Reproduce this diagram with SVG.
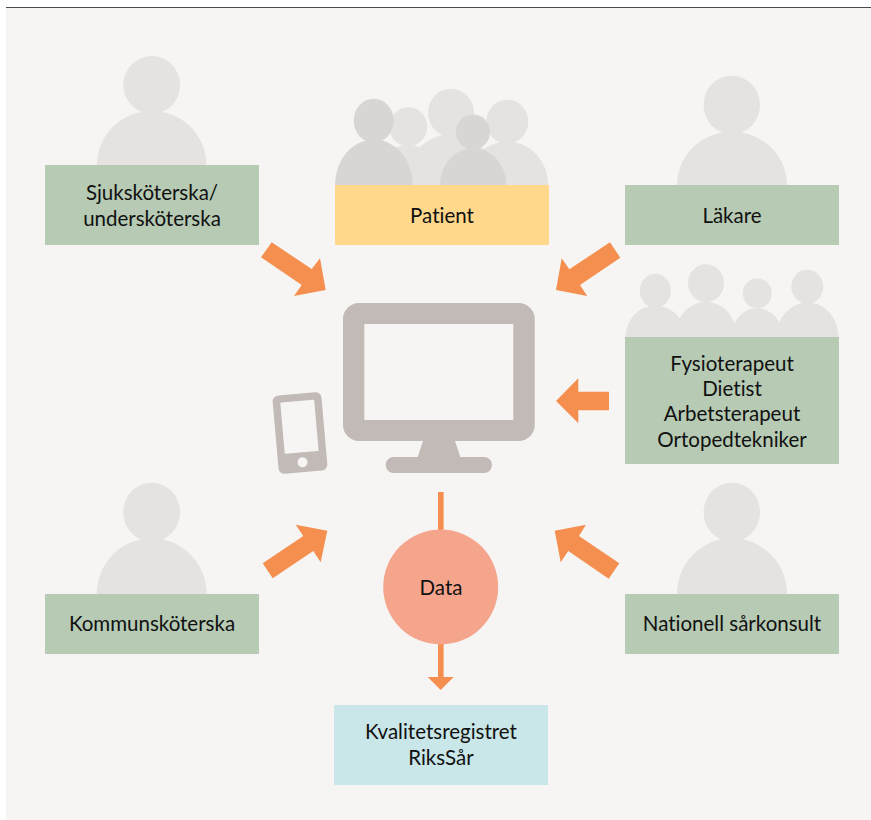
<svg xmlns="http://www.w3.org/2000/svg" width="871" height="820" viewBox="0 0 871 820">
<style>
.lab{font-family:"Lato","Liberation Sans",sans-serif;font-size:20.5px;fill:#111;text-anchor:middle;font-variant-ligatures:none}
.green{fill:#b6cab4}
.p{fill:#e5e2e1}
.f{fill:#d9d5d3}
.arr{fill:#f58f4f}
.dev{fill:#c2bab6}
.bg{fill:#f6f5f3}
</style>
<rect x="0" y="0" width="871" height="820" fill="#fff"/>
<rect class="bg" x="6" y="8" width="865" height="812"/>
<rect x="6" y="7" width="865" height="1" fill="#4a4a4a"/>
<g id="connectors">
<polygon class="arr" points="271.7,242.3 311.7,269 320,258.3 325.7,290 294,296 301.7,285 261,257.3"/>
<polygon class="arr" points="610,242.3 569.3,269.3 561.7,258.3 556,290 587.3,296 580,285 620.3,257.7"/>
<polygon class="arr" points="556,401 578.3,378.3 578.3,391.7 609,391.7 609,410.3 578.3,410.3 578.3,423.3"/>
<polygon class="arr" points="262.7,563.3 303.3,536 295.7,524.7 327.3,530.7 320.7,562.3 313.3,551 272.7,578.3"/>
<polygon class="arr" points="554.7,530.7 586,524.7 579,536 619.3,563.3 608.7,578.7 568.3,551 560.7,562.3"/>
<rect class="arr" x="438" y="492" width="5.6" height="186"/>
<polygon class="arr" points="427.7,677 453.7,677 440.7,690"/>
</g>
<g id="node-sjukskoterska">
<ellipse class="p" cx="151.7" cy="85" rx="28.4" ry="29"/>
<path class="p" d="M97 165A54.7 54 0 0 1 206.400 165Z"/>
<rect class="green" x="45" y="165" width="214" height="80"/>
<text class="lab" x="152" y="200">Sjuksköterska/</text>
<text class="lab" x="152" y="226">undersköterska</text>
</g>
<g id="node-patient">
<ellipse class="p" cx="408.3" cy="126.7" rx="19" ry="19.5"/>
<path class="p" d="M372 185A36 40 0 0 1 444 185Z"/>
<ellipse class="p" cx="451" cy="112.7" rx="23" ry="24"/>
<path class="p" d="M405 185A46 51 0 0 1 497 185Z"/>
<ellipse class="p" cx="507.3" cy="121.7" rx="21" ry="22"/>
<path class="p" d="M466.3 185A41 43.5 0 0 1 548.3 185Z"/>
<ellipse class="f" cx="373.7" cy="120.7" rx="20" ry="22"/>
<path class="f" d="M335 185A38.8 45.5 0 0 1 412.7 185Z"/>
<ellipse class="f" cx="473" cy="132" rx="17" ry="17.5"/>
<path class="f" d="M440 185A33.2 36.7 0 0 1 506.4 185Z"/>
<rect x="335" y="185" width="214" height="60" fill="#ffd88c"/>
<text class="lab" x="442" y="223">Patient</text>
</g>
<g id="node-lakare">
<ellipse class="p" cx="731.800" cy="105" rx="28.2" ry="29.300"/>
<path class="p" d="M677 185A55 53.300 0 0 1 787 185Z"/>
<rect class="green" x="625" y="185" width="214" height="60"/>
<text class="lab" x="732" y="223">Läkare</text>
</g>
<g id="node-terapeuter">
<ellipse class="p" cx="655.3" cy="290.7" rx="15.5" ry="17"/>
<path class="p" d="M625.5 337A30 31.3 0 0 1 685.5 337Z"/>
<ellipse class="p" cx="706" cy="283.3" rx="18" ry="19"/>
<path class="p" d="M675 337A31 35.3 0 0 1 737 337Z"/>
<ellipse class="p" cx="757.3" cy="293.3" rx="14.5" ry="15"/>
<path class="p" d="M731 337A26 28.7 0 0 1 783 337Z"/>
<ellipse class="p" cx="807.3" cy="286.7" rx="16" ry="17"/>
<path class="p" d="M776.5 337A31 34.7 0 0 1 838.5 337Z"/>
<rect class="green" x="625" y="337" width="214" height="127"/>
<text class="lab" x="732" y="371">Fysioterapeut</text>
<text class="lab" x="732" y="396">Dietist</text>
<text class="lab" x="732" y="421">Arbetsterapeut</text>
<text class="lab" x="732" y="447">Ortopedtekniker</text>
</g>
<g id="node-kommunskoterska">
<ellipse class="p" cx="151.600" cy="512.200" rx="28.4" ry="29.500"/>
<path class="p" d="M96.700 594A55 55.700 0 0 1 206.700 594Z"/>
<rect class="green" x="45" y="594" width="214" height="60"/>
<text class="lab" x="152" y="631">Kommunsköterska</text>
</g>
<g id="node-sarkonsult">
<ellipse class="p" cx="731.800" cy="512.200" rx="28.2" ry="29.500"/>
<path class="p" d="M677 594A55 55.700 0 0 1 787 594Z"/>
<rect class="green" x="625" y="594" width="214" height="60"/>
<text class="lab" x="732" y="631">Nationell sårkonsult</text>
</g>
<g id="node-dator">
<path class="dev" fill-rule="evenodd" d="M359 303H518.700A16 16 0 0 1 534.700 319V425A16 16 0 0 1 518.700 441H455L460.300 457H484A8 8 0 0 1 484 473H393.700A8 8 0 0 1 393.700 457H417.700L423 441H359A16 16 0 0 1 343 425V319A16 16 0 0 1 359 303ZM364.300 324V420H513.300V324Z"/>
</g>
<g id="node-telefon" transform="rotate(-5 300 433)">
<rect class="dev" x="275.500" y="393.700" width="49" height="78.600" rx="6"/>
<rect class="bg" x="283" y="401" width="34" height="51.500" rx="1"/>
<circle class="bg" cx="300" cy="462.400" r="5"/>
</g>
<g id="node-data">
<circle cx="440.700" cy="587" r="57.500" fill="#f6a58d"/>
<text class="lab" x="441" y="595">Data</text>
</g>
<g id="node-register">
<rect x="334" y="705" width="214" height="80" fill="#c9e6e8"/>
<text class="lab" x="441" y="739">Kvalitetsregistret</text>
<text class="lab" x="441" y="765">RiksSår</text>
</g>
</svg>
